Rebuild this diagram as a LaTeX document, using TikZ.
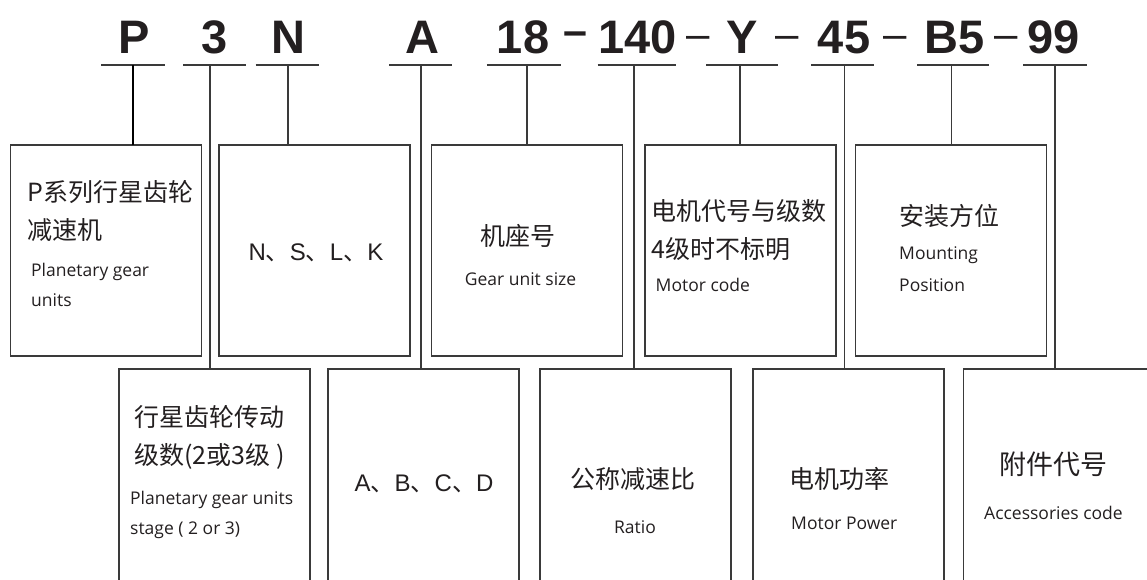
\documentclass[tikz,border=0pt]{standalone}
\usepackage{fontspec}
\setmainfont{Open Sans}
\newfontfamily\cjk{Noto Sans CJK SC}
\newfontfamily\arial{Liberation Sans}
\definecolor{ink}{HTML}{231F20}
\definecolor{linec}{HTML}{3A3A3A}
\begin{document}
\begin{tikzpicture}[x=1pt,y=-1pt,
  box/.style={draw=linec, line width=1.4pt, inner sep=0pt, outer sep=0pt, anchor=north west, minimum width=191pt},
  rowA/.style={box, minimum height=211pt},
  rowB/.style={box, minimum height=231pt},
  code/.style={font=\arial\bfseries\fontsize{47}{50}\selectfont, anchor=base, inner sep=0pt, text=ink},
  thindash/.style={font=\arial\fontsize{42}{46}\selectfont, anchor=base, inner sep=0pt, text=ink},
  bolddash/.style={font=\arial\bfseries\fontsize{43}{46}\selectfont, anchor=base, inner sep=0pt, text=ink},
  cjkt/.style={font=\cjk\fontsize{25}{30}\selectfont, inner sep=0pt, anchor=base west, text=ink},
  ent/.style={font=\fontsize{17.5}{20}\selectfont, inner sep=0pt, anchor=base west, text=ink},
  letters/.style={font=\arial\fontsize{24}{28}\selectfont, inner sep=0pt, anchor=base, text=ink},
  uline/.style={draw=linec, line width=1.6pt},
  conn/.style={draw=linec, line width=1.3pt},
  connP/.style={draw=black, line width=2.2pt}
]
\useasboundingbox (0,0) rectangle (1147,580);

% code letters
\node[code] (cP)   at (134,53.6)  {P};
\node[code] (c3)   at (215,53.6)  {3};
\node[code] (cN)   at (288,53.6)  {N};
\node[code] (cA)   at (422,53.6)  {A};
\node[code] (c18)  at (523,53.6)  {18};
\node[bolddash] (d1) at (575,45.5) {–};
\node[code] (c140) at (637.6,53.6) {140};
\node[thindash] (d2) at (698.5,48.8) {–};
\node[code] (cY)   at (742,53.6)  {Y};
\node[thindash] (d3) at (787.5,48.8) {–};
\node[code] (c45)  at (844,53.6)  {45};
\node[thindash] (d4) at (895,48.8) {–};
\node[code] (cB5)  at (955,53.6)  {B5};
\node[thindash] (d5) at (1006.5,48.8) {–};
\node[code] (c99)  at (1053.5,53.6) {99};

% underlines
\foreach \n/\l/\r in {1/101.4/164.6, 2/183/246, 3/255.6/318.8, 4/389/451.6, 5/486.8/560.7,
  6/597.6/675.6, 7/706/777.6, 8/811/874, 9/917/989, 10/1023/1087}{
  \coordinate (ul\n) at (\l,65);
  \coordinate (ur\n) at (\r,65);
  \draw[uline] (ul\n) -- (ur\n);
}

% boxes, row 1
\node[rowA] (b1) at (10.7,145) {};
\node[rowA] (b2) at (219,145) {};
\node[rowA] (b3) at (431.7,145) {};
\node[rowA] (b4) at (645,145) {};
\node[rowA] (b5) at (855.7,145) {};
% boxes, row 2
\node[rowB] (r1) at (119,369) {};
\node[rowB] (r2) at (328,369) {};
\node[rowB] (r3) at (540,369) {};
\node[rowB] (r4) at (753,369) {};
\node[rowB] (r5) at (963.7,369) {};

% connector start points on the underlines
\coordinate (kP)   at (133,65);
\coordinate (k3)   at (210,65);
\coordinate (kN)   at (288,65);
\coordinate (kA)   at (421,65);
\coordinate (k18)  at (527,65);
\coordinate (k140) at (634,65);
\coordinate (kY)   at (740,65);
\coordinate (k45)  at (844.5,65);
\coordinate (kB5)  at (951.5,65);
\coordinate (k99)  at (1055,65);

\draw[connP] (kP) -- (kP |- b1.north);
\draw[conn] (k3) -- (k3 |- r1.north);
\draw[conn] (kN) -- (kN |- b2.north);
\draw[conn] (kA) -- (kA |- r2.north);
\draw[conn] (k18) -- (k18 |- b3.north);
\draw[conn] (k140) -- (k140 |- r3.north);
\draw[conn] (kY) -- (kY |- b4.north);
\draw[conn] (k45) -- (k45 |- r4.north);
\draw[conn] (kB5) -- (kB5 |- b5.north);
\draw[conn] (k99) -- (k99 |- r5.north);

% texts row 1
\node[cjkt] (t1a) at (27,201) {P系列行星齿轮};
\node[cjkt] (t1b) at (27,239) {减速机};
\node[ent]  (t1c) at (31,276.7) {Planetary gear};
\node[ent]  (t1d) at (31,306.7) {units};

\node[letters] (t2) at (316,260) {N{\cjk 、}S{\cjk 、}L{\cjk 、}K};

\node[cjkt, anchor=base] (t3a) at (517.5,245) {机座号};
\node[ent, anchor=base]  (t3b) at (520.5,285) {Gear unit size};

\node[cjkt] (t4a) at (651,220) {电机代号与级数};
\node[cjkt] (t4b) at (651,258) {4级时不标明};
\node[ent]  (t4c) at (655.5,291.5) {Motor code};

\node[cjkt] (t5a) at (899,225) {安装方位};
\node[ent]  (t5b) at (899,259.5) {Mounting};
\node[ent]  (t5c) at (899,291.5) {Position};

% texts row 2
\node[cjkt] (s1a) at (134,426) {行星齿轮传动};
\node[cjkt] (s1b) at (134,464) {级数(2或3级 )};
\node[ent]  (s1c) at (130,504) {Planetary gear units};
\node[ent]  (s1d) at (130,534) {stage ( 2 or 3)};

\node[letters] (s2) at (424,491.7) {A{\cjk 、}B{\cjk 、}C{\cjk 、}D};

\node[cjkt, anchor=base] (s3a) at (633,488) {公称减速比};
\node[ent, anchor=base]  (s3b) at (635,533) {Ratio};

\node[cjkt] (s4a) at (789,488) {电机功率};
\node[ent]  (s4b) at (791,529) {Motor Power};

\node[cjkt, font=\cjk\fontsize{27}{32}\selectfont] (s5a) at (999,474) {附件代号};
\node[ent]  (s5b) at (984,519.4) {Accessories code};
\end{tikzpicture}
\end{document}
